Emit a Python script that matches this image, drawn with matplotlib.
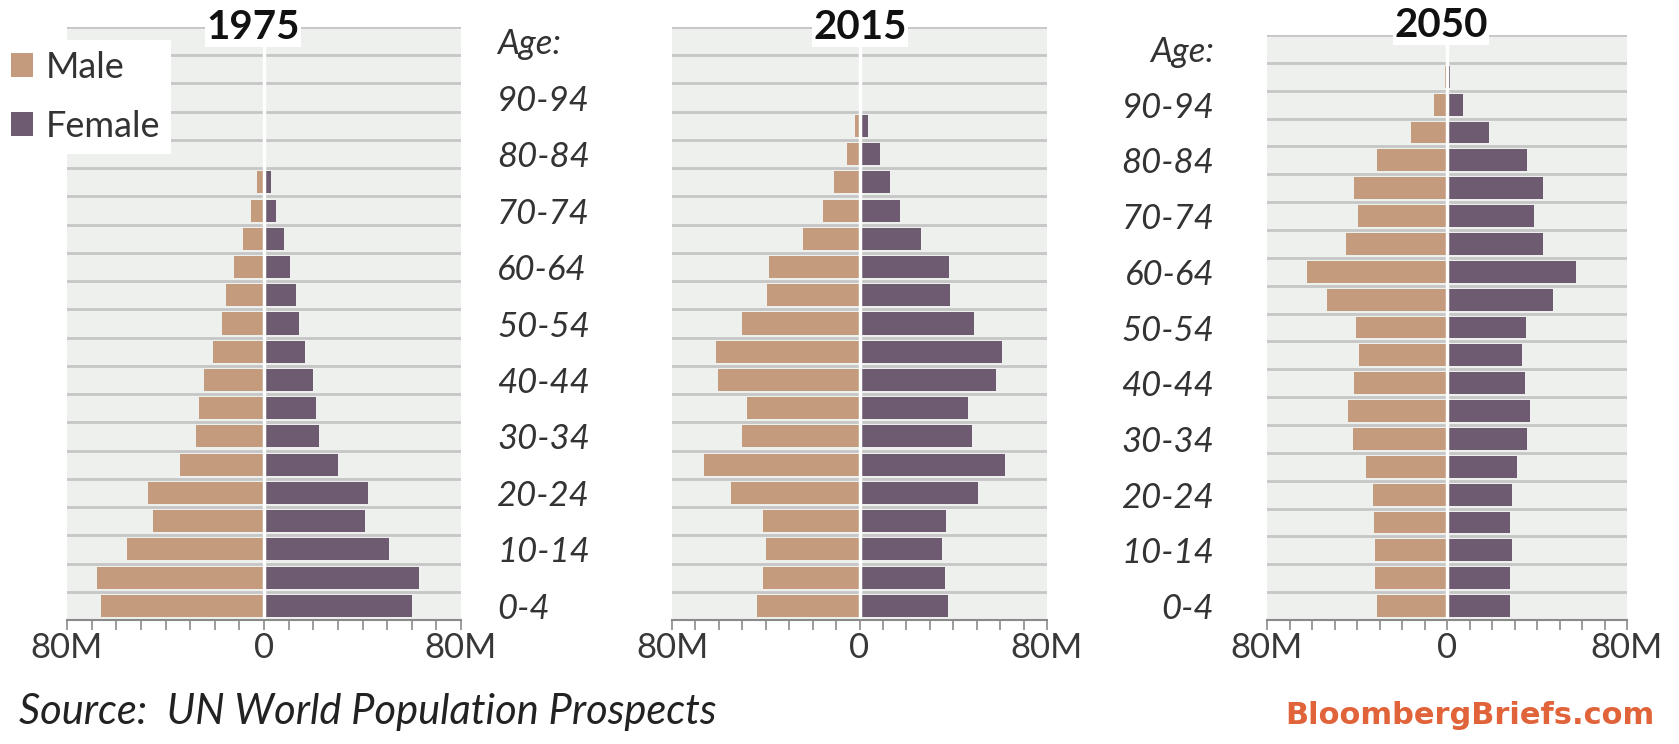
import matplotlib
matplotlib.use("Agg")
import matplotlib.pyplot as plt
from matplotlib.patches import Patch
import numpy as np

plt.rcParams['font.family'] = ['Lato', 'DejaVu Sans']

ages = ["0-4", "5-9", "10-14", "15-19", "20-24", "25-29", "30-34", "35-39",
        "40-44", "45-49", "50-54", "55-59", "60-64", "65-69", "70-74",
        "75-79", "80-84", "85-89", "90-94", "95-99", "100+"]

# millions, youngest first
male_1975 = [66.0, 68.0, 55.8, 45.2, 47.3, 34.0, 27.6, 26.3, 24.5, 20.7, 17.0,
             15.6, 12.2, 8.6, 5.2, 2.7, 0.5, 0, 0, 0, 0]
female_1975 = [59.9, 62.9, 50.6, 41.1, 42.2, 29.9, 22.4, 21.1, 19.7, 16.6, 14.3,
               12.9, 10.6, 8.2, 4.8, 2.7, 0.8, 0, 0, 0, 0]
male_2015 = [43.9, 41.1, 39.7, 41.0, 55.0, 66.4, 50.0, 47.9, 60.3, 61.4, 50.0,
             39.3, 38.6, 24.3, 15.7, 10.7, 5.3, 1.8, 0.3, 0, 0]
female_2015 = [37.9, 36.4, 35.4, 36.9, 50.4, 62.1, 48.1, 46.4, 58.3, 60.7, 49.0,
               38.6, 38.3, 26.1, 17.1, 12.9, 8.6, 3.6, 0.6, 0, 0]
male_2050 = [30.9, 31.9, 31.9, 32.4, 33.1, 36.0, 41.6, 43.8, 41.2, 39.0, 40.4,
             53.2, 62.1, 44.9, 39.4, 41.2, 31.2, 15.9, 5.6, 1.0, 0]
female_2050 = [27.9, 28.2, 28.7, 27.9, 28.7, 31.2, 35.6, 37.1, 34.6, 33.5, 35.0,
               47.1, 57.4, 42.6, 38.5, 42.6, 35.6, 18.8, 7.1, 1.5, 0]

years = ["1975", "2015", "2050"]
xtick_vals = [-80, 0, 80]
xtick_labels = ["80M", "0", "80M"]

MALE = '#c49b7d'
FEMALE = '#6f5b71'
BG = '#eef0ed'
GRID = '#c6c6c6'

W, H = 1679, 744
fig = plt.figure(figsize=(W / 100, H / 100), dpi=100)

# axes boxes in pixels: left, top, right, bottom
boxes = [(67, 27, 461, 620), (672, 27, 1047, 620), (1267, 35, 1627, 620)]
title_x = [0.472, 0.501, 0.483]

axes = []
for i, (l, t, r, b) in enumerate(boxes):
    ax = fig.add_axes([l / W, 1 - b / H, (r - l) / W, (b - t) / H])
    axes.append(ax)

data = [(male_1975, female_1975), (male_2015, female_2015), (male_2050, female_2050)]
y = np.arange(len(ages))

for i, ax in enumerate(axes):
    m, f = data[i]
    ax.set_facecolor(BG)
    ax.barh(y, -np.array(m), height=0.78, color=MALE, zorder=3)
    ax.barh(y, f, height=0.78, color=FEMALE, zorder=3)
    ax.axvline(0, color='white', lw=2.5, zorder=4)
    ax.set_xlim(-80, 80)
    ax.set_ylim(-0.5, len(ages) - 0.5)

    ax.set_yticks(np.arange(-0.5, len(ages)), minor=True)
    ax.grid(axis='y', which='minor', color=GRID, lw=2, zorder=1)
    ax.tick_params(axis='y', which='both', length=0)

    for s in ['top', 'left', 'right']:
        ax.spines[s].set_visible(False)
    ax.spines['bottom'].set_color('#8a8a8a')
    ax.spines['bottom'].set_linewidth(1.5)
    ax.spines['bottom'].set_zorder(5)

    ax.set_xticks(xtick_vals)
    ax.set_xticklabels(xtick_labels)
    ax.set_xticks(np.arange(-80, 81, 10), minor=True)
    ax.tick_params(axis='x', which='both', direction='out', length=7,
                   width=1.2, color='#8a8a8a', labelsize=25, labelcolor='#383838',
                   pad=2)

    ax.text(title_x[i], 1.0 if i < 2 else 1.017, years[i], transform=ax.transAxes,
            ha='center', va='center', fontsize=29, fontweight='bold', color='#111111',
            bbox=dict(facecolor='white', edgecolor='none', pad=1), zorder=6)

# age labels (every other group, top row shown as "Age:")
lab_pos = list(range(0, len(ages), 2))
lab_txt = [ages[k] if k < len(ages) - 1 else "Age:" for k in lab_pos]

for ax, ha, pad in [(axes[1], 'left', 126), (axes[2], 'right', 38)]:
    ax.set_yticks(lab_pos)
    ax.set_yticklabels(lab_txt, fontsize=25, style='italic', color='#333333', ha=ha)
    ax.tick_params(axis='y', which='major', pad=pad)
axes[0].set_yticks([])

handles = [Patch(facecolor=MALE, edgecolor='none', label='Male'),
           Patch(facecolor=FEMALE, edgecolor='none', label='Female')]
leg = axes[0].legend(handles=handles, loc='upper left',
                     bbox_to_anchor=(0, 1 - 40 / H), bbox_transform=fig.transFigure,
                     borderaxespad=0, frameon=True, facecolor='white', edgecolor='none',
                     framealpha=1, fancybox=False, fontsize=26, handlelength=0.62,
                     handleheight=0.62, handletextpad=0.35, labelspacing=0.72,
                     borderpad=0.3)
for t in leg.get_texts():
    t.set_color('#333333')
leg.set_zorder(10)

fig.text(19 / W, 1 - 712 / H, "Source:  UN World Population Prospects",
         fontsize=30, style='italic', color='#222222', va='center', ha='left')
fig.text(1654 / W, 1 - 716 / H, "BloombergBriefs.com", fontsize=22,
         fontweight='bold', color='#e0633a', va='center', ha='right',
         family=['DejaVu Sans'])

fig.savefig("out.png", dpi=100, facecolor='white')
